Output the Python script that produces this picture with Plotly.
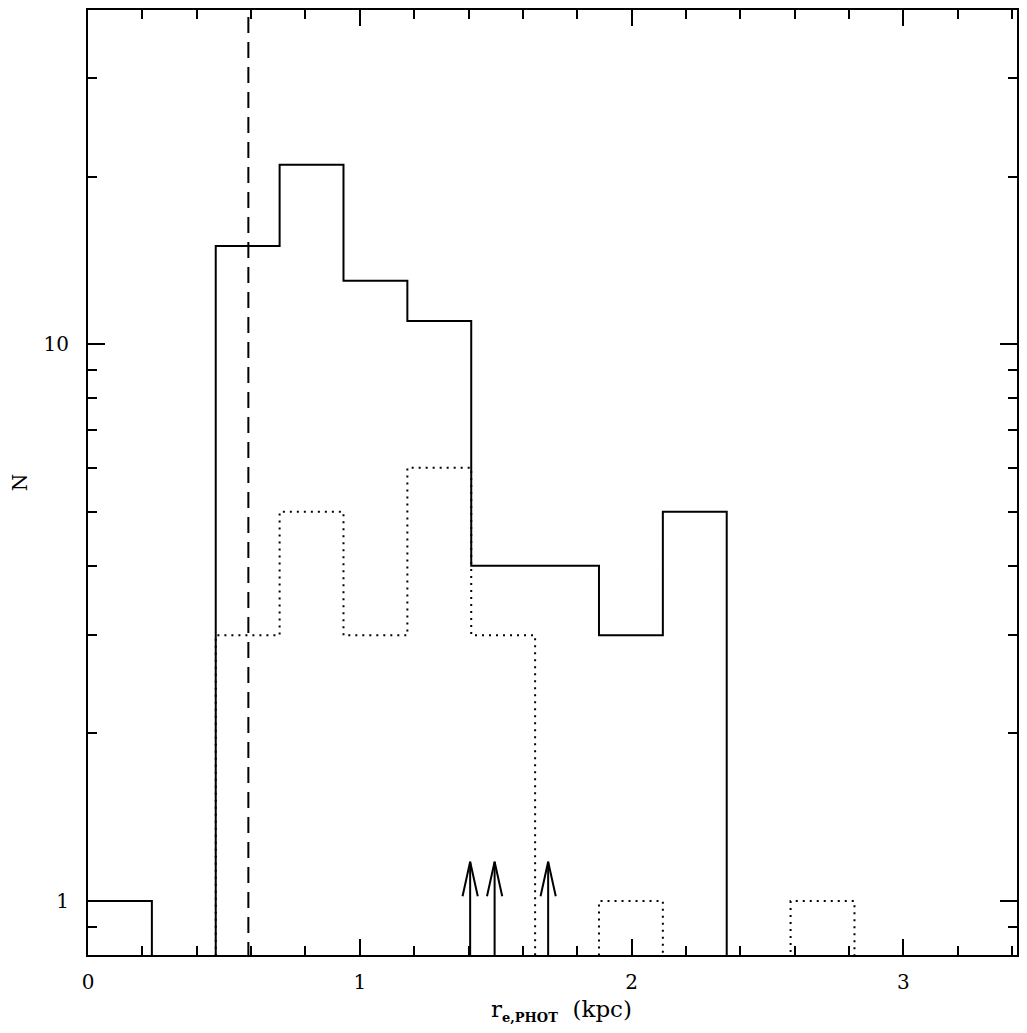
import plotly.graph_objects as go

# histogram bins (kpc)
bin_edges = [0, 0.235, 0.47, 0.705, 0.94, 1.175, 1.41, 1.645, 1.88, 2.115, 2.35, 2.585, 2.82, 3.055]
# all galaxies (solid)
n_all = [1, 0, 15, 21, 13, 11, 4, 4, 3, 5, 0, 0, 0]
# subsample (dotted)
n_sub = [0, 0, 3, 5, 3, 6, 3, 0, 1, 0, 0, 1, 0]
# resolution limit (dashed line)
r_limit = 0.59
# lower limits (arrows)
arrow_x = [1.406, 1.496, 1.693]

FLOOR = 0.1  # below the axis, so empty bins drop off the plot


def steps(counts):
    y = [c if c > 0 else FLOOR for c in counts]
    return bin_edges, y + [y[-1]]


fig = go.Figure()

x, y = steps(n_all)
fig.add_trace(go.Scatter(x=x, y=y, mode='lines', line_shape='hv',
                         line=dict(color='black', width=2)))

x, y = steps(n_sub)
fig.add_trace(go.Scatter(x=x, y=y, mode='lines', line_shape='hv',
                         line=dict(color='black', width=2, dash='2px,5px')))

fig.add_trace(go.Scatter(x=[r_limit, r_limit], y=[FLOOR, 100], mode='lines',
                         line=dict(color='black', width=2, dash='16px,9px')))

# arrows: shaft + open V head
tip, head, hw = 1.176, 1.02, 0.028
ax, ay = [], []
for a in arrow_x:
    ax += [a, a, None, a - hw, a, a + hw, None]
    ay += [FLOOR, tip, None, head, tip, head, None]
fig.add_trace(go.Scatter(x=ax, y=ay, mode='lines',
                         line=dict(color='black', width=2)))

font = dict(family='DejaVu Serif', size=20, color='black')

# page body keeps a margin, so the figure does not start at (0, 0)
fig.update_layout(
    margin=dict(l=80, r=0, t=2, b=70),
    plot_bgcolor='white', paper_bgcolor='white',
    showlegend=False,
    font=font,
)
fig.update_xaxes(
    range=[0, 3.418], showgrid=False, zeroline=False,
    showline=True, linecolor='black', linewidth=2, mirror='ticks',
    ticks='inside', ticklen=16, tickwidth=2, tickcolor='black',
    tickvals=[0, 1, 2, 3], ticklabelstandoff=8,
    minor=dict(tickvals=[0.2, 0.4, 0.6, 0.8, 1.2, 1.4, 1.6, 1.8, 2.2, 2.4, 2.6, 2.8, 3.2, 3.4],
               ticks='inside', ticklen=9, tickwidth=2, tickcolor='black'),
)
fig.add_annotation(
    text='r<sub><b><span style="font-size:13px">e,PHOT</span></b></sub>  (kpc)',
    xref='paper', yref='paper', x=0.51, y=-0.059, xanchor='center', yanchor='middle',
    showarrow=False, font=dict(family='DejaVu Serif', size=23, color='black'),
)
fig.update_yaxes(
    type='log', range=[-0.0969, 1.6], showgrid=False, zeroline=False,
    showline=True, linecolor='black', linewidth=2, mirror='ticks',
    ticks='inside', ticklen=17, tickwidth=2, tickcolor='black',
    tickvals=[1, 10], ticktext=['1', '10'], ticklabelstandoff=13,
    minor=dict(tickvals=[0.9, 2, 3, 4, 5, 6, 7, 8, 9, 20, 30],
               ticks='inside', ticklen=9, tickwidth=2, tickcolor='black'),
    title=dict(text='N', font=dict(family='DejaVu Serif', size=20), standoff=22),
)

fig.write_html("out.html")
